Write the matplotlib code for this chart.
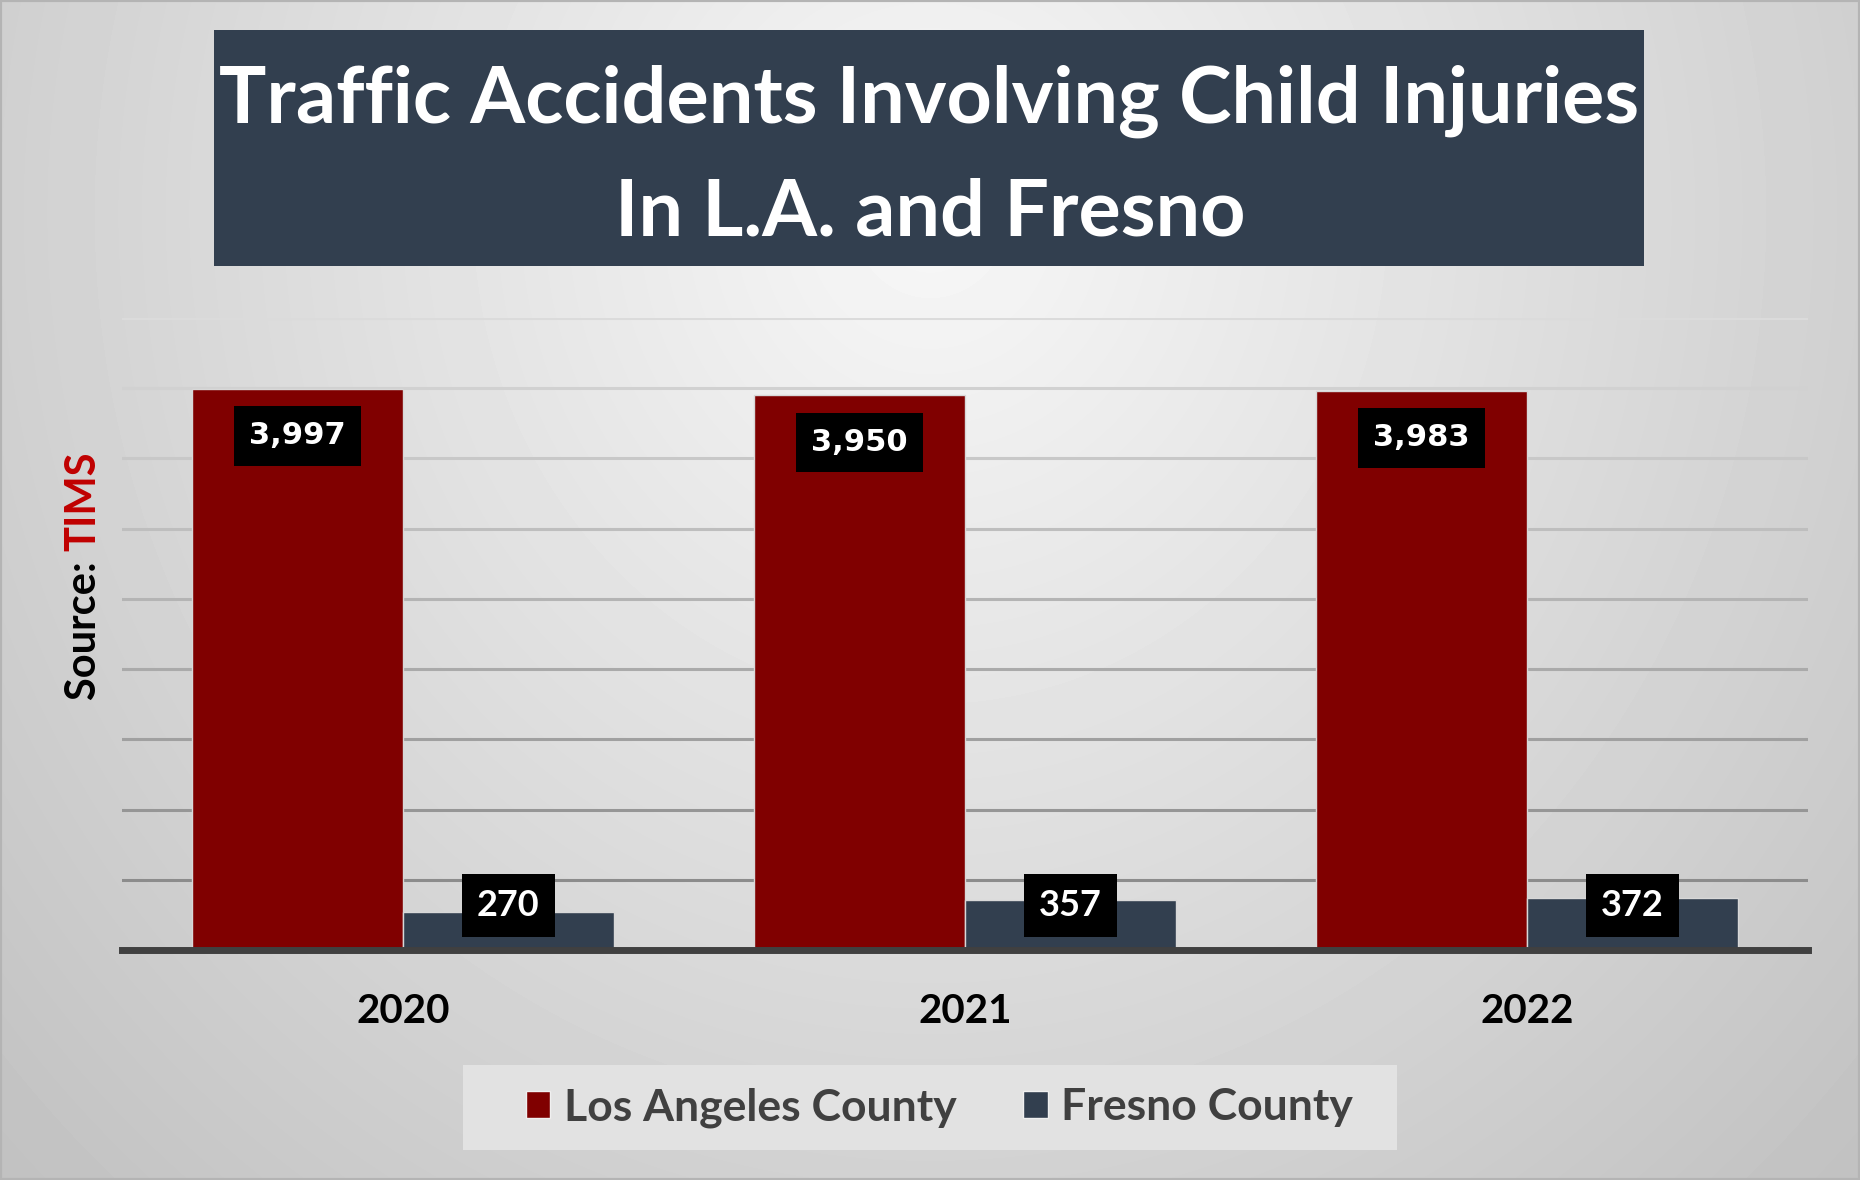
import numpy as np
import matplotlib.pyplot as plt
from matplotlib.patches import Rectangle, Patch
from matplotlib.transforms import blended_transform_factory

# Data
years = ['2020', '2021', '2022']
la_county = [3997, 3950, 3983]
fresno_county = [270, 357, 372]
series_names = ['Los Angeles County', 'Fresno County']

MAROON = '#800000'
SLATE = '#323F4F'

fig = plt.figure(figsize=(18.6, 11.8), dpi=100)

# Background radial gradient
bg = fig.add_axes([0, 0, 1, 1], zorder=-10)
X, Y = np.meshgrid(np.linspace(0, 1, 400), np.linspace(0, 1, 260))
r = np.sqrt(((X - 0.5) / 0.62) ** 2 + ((Y - 0.82) / 1.05) ** 2)
val = 0.97 - 0.19 * np.clip(r, 0, 1.1)
bg.imshow(val, cmap='gray', vmin=0, vmax=1, origin='lower',
          extent=[0, 1, 0, 1], aspect='auto', interpolation='bilinear')
bg.set_axis_off()
fig.add_artist(Rectangle((0, 0), 1, 1, transform=fig.transFigure,
                         fill=False, edgecolor='#b4b4b4', lw=3))

# Title box
fig.add_artist(Rectangle((0.115, 0.7746), 0.769, 0.2, transform=fig.transFigure,
                         facecolor=SLATE, edgecolor='none'))
fig.text(0.4995, 0.8958, 'Traffic Accidents Involving Child Injuries', ha='center',
         va='baseline', color='white', fontsize=57, fontweight='bold', family='Lato')
fig.text(0.5, 0.8008, 'In L.A. and Fresno', ha='center', va='baseline',
         color='white', fontsize=57, fontweight='bold', family='Lato')

# Source note (two colours)
src = fig.text(0.045, 0.4068, 'Source: ', rotation=90, ha='center', va='bottom',
               fontsize=30, fontweight='bold', family='Lato', color='black')
ax = fig.add_axes([0.0656, 0.1949, 0.9064, 0.5356])
ax.annotate('TIMS', xy=(0.5, 1.0), xycoords=src, rotation=90, ha='center',
            va='bottom', fontsize=30, fontweight='bold', family='Lato',
            color='#C00000')

ax.set_facecolor('none')
x = np.arange(len(years))
w = 0.375
ax.bar(x - w / 2, la_county, w, color=MAROON, edgecolor='#d8d8d8', lw=1, zorder=3)
ax.bar(x + w / 2, fresno_county, w, color=SLATE, edgecolor='#d8d8d8', lw=1, zorder=3)

ax.set_xlim(-0.5, 2.5)
ax.set_ylim(0, 4500)

# Gridlines, darker toward the bottom
grid_vals = np.arange(500, 4501, 500)
grays = np.linspace(0.55, 0.86, len(grid_vals))
for gv, g in zip(grid_vals, grays):
    ax.axhline(gv, color=str(g), lw=2.2, zorder=1)

for s in ['left', 'right', 'top']:
    ax.spines[s].set_visible(False)
ax.spines['bottom'].set_color('#404040')
ax.spines['bottom'].set_linewidth(5)
ax.spines['bottom'].set_zorder(4)
ax.set_yticks([])
ax.set_xticks(x)
ax.set_xticklabels(years, fontsize=29, fontweight='bold', family='Lato')
ax.tick_params(axis='x', length=0, pad=31)

# Data labels
for xi, v in zip(x, la_county):
    ax.annotate(f'{v:,}', xy=(xi - w / 2, v), xytext=(0, -34), textcoords='offset points',
                ha='center', va='center', color='white', fontsize=22,
                fontweight='bold', family='DejaVu Sans', zorder=5,
                bbox=dict(boxstyle='square,pad=0.5', fc='black', ec='none'))
trans = blended_transform_factory(ax.transData, ax.transAxes)
for xi, v in zip(x, fresno_county):
    ax.text(xi + w / 2, 0.07, f'{v}', transform=trans, ha='center', va='center',
            color='white', fontsize=26, fontweight='bold', family='Lato', zorder=5,
            bbox=dict(boxstyle='square,pad=0.42', fc='black', ec='none'))

# Legend
fig.add_artist(Rectangle((0.249, 0.0254), 0.502, 0.0721, transform=fig.transFigure,
                         facecolor='#e2e2e2', edgecolor='none'))
handles = [Patch(facecolor=MAROON, edgecolor='#f0f0f0'),
           Patch(facecolor=SLATE, edgecolor='#f0f0f0')]
leg = fig.legend(handles, series_names, loc='center', bbox_to_anchor=(0.505, 0.0614),
                 ncol=2, frameon=False, handlelength=0.55, handleheight=0.55,
                 handletextpad=0.3, columnspacing=1.5,
                 prop={'family': 'Lato', 'weight': 'bold', 'size': 32})
for t in leg.get_texts():
    t.set_color('#404040')

fig.savefig('out.png', dpi=100)
